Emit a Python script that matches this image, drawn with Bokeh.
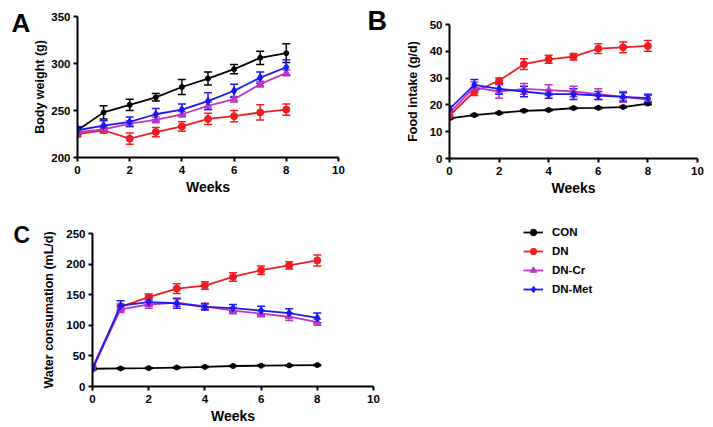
from bokeh.plotting import figure
from bokeh.layouts import column, row
from bokeh.models import ColumnDataSource, Whisker, TeeHead, Label, Legend, LegendItem, Range1d, FixedTicker
from bokeh.embed import file_html
from bokeh.resources import INLINE

weeks = [0, 1, 2, 3, 4, 5, 6, 7, 8]
groups = ["CON", "DN", "DN-Cr", "DN-Met"]

# Panel A: body weight (g)
bw_con = [229, 248, 256, 264, 275, 284, 294, 306, 311]
bw_con_err = [3, 7, 6, 4, 8, 7, 5, 7, 10]
bw_dn = [225, 229, 220, 227, 233, 241, 244, 248, 251]
bw_dn_err = [3, 3, 6, 5, 5, 6, 6, 8, 6]
bw_cr = [227, 230, 236, 240, 246, 255, 262, 278, 290]
bw_cr_err = [3, 3, 3, 3, 3, 4, 3, 3, 3]
bw_met = [229, 234, 238, 246, 251, 260, 271, 285, 296]
bw_met_err = [4, 5, 5, 6, 6, 9, 7, 6, 8]

# Panel B: food intake (g/d)
fi_con = [15, 16.2, 17, 17.8, 18.1, 18.8, 18.9, 19.2, 20.5]
fi_con_err = [0.3, 0.3, 0.3, 0.3, 0.3, 0.3, 0.3, 0.3, 0.4]
fi_dn = [16, 25, 29, 35.2, 37, 38, 41, 41.5, 42]
fi_dn_err = [1, 1.5, 1, 2, 1.5, 1.2, 1.8, 2, 2]
fi_cr = [17, 26.5, 25, 26, 25.5, 25, 24, 23, 22]
fi_cr_err = [1.5, 2, 2.5, 2, 2, 2, 2, 2, 1.5]
fi_met = [18.5, 27.5, 26, 25, 24, 24, 23.5, 23, 22.5]
fi_met_err = [1, 2, 2, 2, 1.5, 2, 1.5, 1.5, 1.5]

# Panel C: water consumption (mL/d)
wc_con = [29, 29.5, 30, 31, 32, 33.5, 34, 34.5, 35]
wc_con_err = [1, 1, 1, 1, 1, 1, 1, 1, 1]
wc_dn = [31, 130, 146, 160, 165, 179, 190, 198, 206]
wc_dn_err = [2, 5, 5, 8, 6, 7, 7, 6, 9]
wc_cr = [29, 126, 134, 137, 131, 124, 119, 114, 105]
wc_cr_err = [2, 5, 6, 6, 5, 5, 5, 6, 5]
wc_met = [28, 132, 138, 136, 130, 128, 124, 120, 112]
wc_met_err = [2, 8, 6, 8, 5, 6, 7, 7, 8]

colors = ["#000000", "#f01e23", "#c035c8", "#1a1af0"]
markers = ["circle", "circle", "triangle", "diamond"]
msizes = [5, 7, 7, 8]

FONT = "Liberation Sans"


def style(p, xlabel, ylabel, yticks, ylab_standoff):
    p.xgrid.visible = False
    p.ygrid.visible = False
    p.outline_line_color = None
    p.xaxis.ticker = FixedTicker(ticks=[0, 2, 4, 6, 8, 10])
    p.yaxis.ticker = FixedTicker(ticks=yticks)
    for ax in (p.xaxis[0], p.yaxis[0]):
        ax.axis_line_width = 2
        ax.major_tick_line_width = 2
        ax.major_tick_out = 4
        ax.major_tick_in = 0
        ax.minor_tick_out = 0
        ax.minor_tick_in = 0
        ax.major_label_text_font = FONT
        ax.major_label_text_font_style = "bold"
        ax.major_label_text_font_size = "11.5px"
        ax.major_label_text_color = "#000000"
        ax.axis_label_text_font = FONT
        ax.axis_label_text_font_style = "bold"
        ax.axis_label_text_color = "#000000"
    p.xaxis.axis_label = xlabel
    p.yaxis.axis_label = ylabel
    p.xaxis.axis_label_text_font_size = "14px"
    p.yaxis.axis_label_text_font_size = "12.5px"
    p.xaxis.axis_label_standoff = 2
    p.yaxis.axis_label_standoff = ylab_standoff
    p.xaxis.major_label_standoff = 4
    p.yaxis.major_label_standoff = 3


def draw(p, series):
    out = []
    for (vals, errs), c, m, s in zip(series, colors, markers, msizes):
        src = ColumnDataSource(dict(
            x=weeks, y=vals,
            upper=[v + e for v, e in zip(vals, errs)],
            lower=[v - e for v, e in zip(vals, errs)],
        ))
        w = Whisker(base="x", upper="upper", lower="lower", source=src,
                    line_color=c, line_width=1.5,
                    upper_head=TeeHead(size=8, line_color=c, line_width=1.5),
                    lower_head=TeeHead(size=8, line_color=c, line_width=1.5))
        p.add_layout(w)
        p.line("x", "y", source=src, line_color=c, line_width=1.8)
        p.scatter("x", "y", source=src, marker=m, size=s,
                  fill_color=c, line_color=c)
        out.append(src)
    return out


def blank(width, height, top, bottom):
    b = figure(width=width, height=height, output_backend="svg", toolbar_location=None,
               x_axis_location=None, y_axis_location=None,
               min_border_left=0, min_border_right=0,
               min_border_top=top, min_border_bottom=bottom,
               x_range=Range1d(0, 1), y_range=Range1d(0, 1))
    b.xgrid.visible = False
    b.ygrid.visible = False
    b.outline_line_color = None
    return b


def letter_fig(width, height, txt, x, y, size):
    # label position is measured from the frame's bottom-left corner
    b = blank(width, height, 0, 0)
    b.add_layout(Label(x=x, y=y, x_units="screen", y_units="screen", text=txt,
                       text_font=FONT, text_font_style="bold",
                       text_font_size=size, text_color="#000000",
                       text_baseline="alphabetic"))
    return b


H1, B1 = 200, 42
H2, T2, B2 = 226, 33, 40
SHIFT = 10  # empirical baseline correction for Label

# Panel A
pA = figure(width=330, height=H1, output_backend="svg", toolbar_location=None,
            x_range=Range1d(0, 10), y_range=Range1d(200, 350),
            min_border_left=47, min_border_right=22, min_border_top=16, min_border_bottom=B1 + 1)
style(pA, "Weeks", "Body weight (g)", [200, 250, 300, 350], 1)
draw(pA, [(bw_con, bw_con_err), (bw_dn, bw_dn_err), (bw_cr, bw_cr_err), (bw_met, bw_met_err)])
LA = letter_fig(30, H1, "A", 11, H1 - 32 + SHIFT, "26px")

# Panel B
pB = figure(width=317, height=H1, output_backend="svg", toolbar_location=None,
            x_range=Range1d(0, 10), y_range=Range1d(0, 50),
            min_border_left=54, min_border_right=15, min_border_top=24, min_border_bottom=B1)
style(pB, "Weeks", "Food intake (g/d)", [0, 10, 20, 30, 40, 50], 7)
draw(pB, [(fi_con, fi_con_err), (fi_dn, fi_dn_err), (fi_cr, fi_cr_err), (fi_met, fi_met_err)])
LB = letter_fig(35, H1, "B", 7, H1 - 30 + SHIFT, "27px")

# Panel C
pC = figure(width=422, height=H2, output_backend="svg", toolbar_location=None,
            x_range=Range1d(0, 10), y_range=Range1d(0, 250),
            min_border_left=54, min_border_right=87, min_border_top=T2, min_border_bottom=B2)
style(pC, "Weeks", "Water consumation (mL/d)", [0, 50, 100, 150, 200, 250], 7)
srcC = draw(pC, [(wc_con, wc_con_err), (wc_dn, wc_dn_err), (wc_cr, wc_cr_err), (wc_met, wc_met_err)])
LC = letter_fig(38, H2, "C", 13, H2 - 43 + SHIFT - 1, "23px")

# Legend panel (its renderers reuse panel C's data, which lies outside this frame)
LG = blank(252, H2, 10, B2)
items = []
for g, c, m, s, src in zip(groups, colors, markers, msizes, srcC):
    l = LG.line("x", "y", source=src, line_color=c, line_width=1.8)
    sc = LG.scatter("x", "y", source=src, marker=m, size=s - 1, fill_color=c, line_color=c)
    items.append(LegendItem(label=g, renderers=[l, sc]))
legend = Legend(items=items, location=(63, (H2 - B2) - 97), padding=0, margin=0,
                border_line_color=None, background_fill_alpha=0,
                glyph_width=20, glyph_height=16, label_height=16, spacing=3,
                label_standoff=9, label_text_font=FONT, label_text_font_style="bold",
                label_text_font_size="11.5px", label_text_color="#000000")
LG.add_layout(legend)

layout = column(row(column(LA), pA, column(LB), column(pB)),
                row(column(LC), pC, column(LG)))
open("out.html", "w").write(file_html(layout, INLINE))
